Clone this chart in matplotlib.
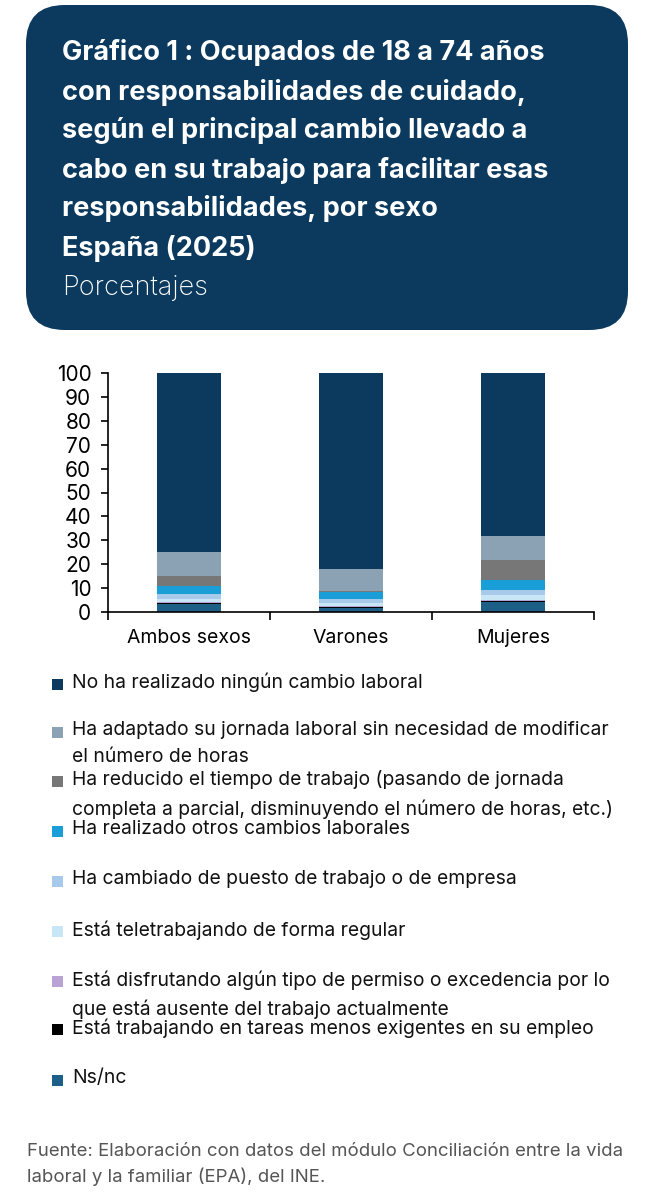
import numpy as np
import matplotlib
matplotlib.use("Agg")
import matplotlib.pyplot as plt
from matplotlib.patches import FancyBboxPatch, Rectangle

plt.rcParams['font.family'] = ['Inter', 'DejaVu Sans']

# data
groups = ["Ambos sexos", "Varones", "Mujeres"]
# stacked from bottom to top
series = [
    "Ns/nc",
    "Está trabajando en tareas menos exigentes en su empleo",
    "Está disfrutando algún tipo de permiso o excedencia por lo\nque está ausente del trabajo actualmente",
    "Está teletrabajando de forma regular",
    "Ha cambiado de puesto de trabajo o de empresa",
    "Ha realizado otros cambios laborales",
    "Ha reducido el tiempo de trabajo (pasando de jornada\ncompleta a parcial, disminuyendo el número de horas, etc.)",
    "Ha adaptado su jornada laboral sin necesidad de modificar\nel número de horas",
    "No ha realizado ningún cambio laboral",
]
ns_nc      = [3.2, 1.8, 4.0]
menos_exig = [0.4, 0.2, 0.4]
permiso    = [0.6, 0.4, 0.8]
teletrab   = [1.1, 1.4, 1.8]
cambiado   = [2.1, 1.8, 2.4]
otros      = [3.5, 2.7, 4.0]
reducido   = [4.2, 0.5, 8.2]
adaptado   = [9.8, 9.1, 10.2]
no_cambio  = [75.1, 82.1, 68.2]
values = [ns_nc, menos_exig, permiso, teletrab, cambiado, otros, reducido, adaptado, no_cambio]
colors = ["#1d5f86", "#000000", "#b9a2d4", "#c9e6f6", "#a7c9ea", "#1a9ed8",
          "#777777", "#8aa2b4", "#0b3a5e"]

title_lines = [
    "Gráfico 1 : Ocupados de 18 a 74 años",
    "con responsabilidades de cuidado,",
    "según el principal cambio llevado a",
    "cabo en su trabajo para facilitar esas",
    "responsabilidades, por sexo",
    "España (2025)",
]
subtitle = "Porcentajes"
source = ["Fuente: Elaboración con datos del módulo Conciliación entre la vida",
          "laboral y la familiar (EPA), del INE."]

W, H = 645, 1200
fig = plt.figure(figsize=(W / 100, H / 100), dpi=100)

def fx(x):
    return x / W

def fy(y):
    return 1 - y / H

# title box
box = FancyBboxPatch((fx(26), fy(330)), fx(628) - fx(26), fy(5) - fy(330),
                     boxstyle="round,pad=0,rounding_size=0.06",
                     mutation_aspect=W / H,
                     transform=fig.transFigure, facecolor="#0b3a5e", edgecolor="none")
fig.patches.append(box)
ys = [52, 92, 131, 170, 209, 248]
for line, y in zip(title_lines, ys):
    fig.text(fx(62), fy(y), line, color="white", fontsize=19.5, fontweight="bold",
             va="center", ha="left")
fig.text(fx(62), fy(288), subtitle, color="white", fontsize=19.5, fontweight="light",
         va="center", ha="left")

# chart
ax = fig.add_axes([fx(108), fy(612), fx(594) - fx(108), fy(373) - fy(612)])
x = np.arange(len(groups))
bottom = np.zeros(len(groups))
for vals, c in zip(values, colors):
    ax.bar(x, vals, 0.4, bottom=bottom, color=c, linewidth=0)
    bottom += np.array(vals)

ax.set_xlim(-0.5, 2.5)
ax.set_ylim(0, 100)
ax.set_yticks(np.arange(0, 101, 10))
ax.tick_params(axis="y", labelsize=15, length=5, width=1.2, pad=7)
ax.set_xticks([-0.5, 0.5, 1.5, 2.5])
ax.set_xticklabels([])
ax.tick_params(axis="x", which="major", length=6, width=1.2)
ax.set_xticks(x, minor=True)
ax.set_xticklabels(groups, minor=True)
ax.tick_params(axis="x", which="minor", length=0, labelsize=14, pad=12)
for s in ["top", "right"]:
    ax.spines[s].set_visible(False)
for s in ["left", "bottom"]:
    ax.spines[s].set_linewidth(1.2)

# legend, top to bottom
legend_y = [684, 732, 781, 831, 881, 931, 981, 1029, 1080]
for lab, c, y in zip(series[::-1], colors[::-1], legend_y):
    fig.patches.append(Rectangle((fx(52), fy(y + 6)), fx(11), 11 / H,
                                 transform=fig.transFigure, facecolor=c, edgecolor="none"))
    fig.text(fx(72), fy(y - 11), lab, fontsize=13.9, va="top", ha="left",
             color="#111111", linespacing=1.65)

# source
fig.text(fx(27), fy(1151), source[0], fontsize=13.4, color="#555555", va="center")
fig.text(fx(27), fy(1177), source[1], fontsize=13.4, color="#555555", va="center")

fig.savefig("out.png", dpi=100)
